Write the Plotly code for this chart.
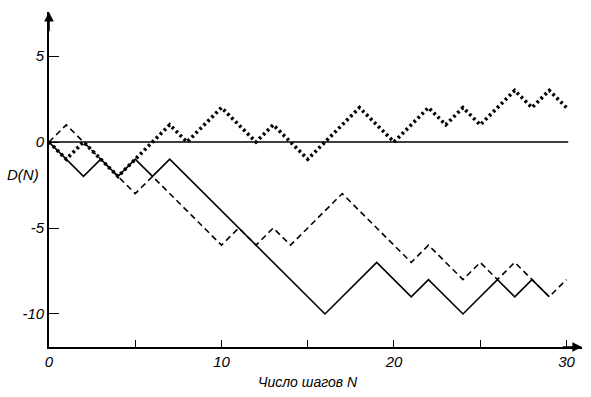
import plotly.graph_objects as go

# Number of steps N
steps = [0, 1, 2, 3, 4, 5, 6, 7, 8, 9, 10, 11, 12, 13, 14, 15,
         16, 17, 18, 19, 20, 21, 22, 23, 24, 25, 26, 27, 28, 29, 30]

# Three random walks D(N)
walk_solid = [0, -1, -2, -1, -2, -1, -2, -1, -2, -3, -4, -5, -6, -7, -8, -9,
              -10, -9, -8, -7, -8, -9, -8, -9, -10, -9, -8, -9, -8, -9]
walk_dashed = [0, 1, 0, -1, -2, -3, -2, -3, -4, -5, -6, -5, -6, -5, -6, -5,
               -4, -3, -4, -5, -6, -7, -6, -7, -8, -7, -8, -7, -8, -9, -8]
walk_dotted = [0, -1, 0, -1, -2, -1, 0, 1, 0, 1, 2, 1, 0, 1, 0, -1,
               0, 1, 2, 1, 0, 1, 2, 1, 2, 1, 2, 3, 2, 3, 2]

x_tickvals = [0, 5, 10, 15, 20, 25, 30]
x_ticktext = ["0", "", "10", "", "20", "", "30"]
y_tickvals = [5, 0, -5, -10]
y_ticktext = ["5", "0", "-5", "-10"]

X_RANGE = [0, 30.9]
Y_RANGE = [-11.92, 7.56]

FONT = "Liberation Sans"

fig = go.Figure()

fig.add_trace(go.Scatter(
    x=steps[:len(walk_solid)], y=walk_solid, mode="lines",
    line=dict(color="black", width=1.6), showlegend=False))
fig.add_trace(go.Scatter(
    x=steps[:len(walk_dashed)], y=walk_dashed, mode="lines",
    line=dict(color="black", width=1.6, dash="6px,4px"), showlegend=False))
fig.add_trace(go.Scatter(
    x=steps[:len(walk_dotted)], y=walk_dotted, mode="lines",
    line=dict(color="black", width=3.6, dash="2.6px,3px"), showlegend=False))

# horizontal reference line at D = 0
fig.add_shape(type="line", x0=0, x1=30.1, y0=0, y1=0, xref="x", yref="y",
              line=dict(color="black", width=1.3))

# arrow heads on the axes
fig.add_annotation(x=0, y=Y_RANGE[1], ax=0, ay=Y_RANGE[1] - 1.2,
                   xref="x", yref="y", axref="x", ayref="y",
                   showarrow=True, arrowhead=2, arrowsize=1.2, arrowwidth=1.6,
                   arrowcolor="black", text="")
fig.add_annotation(x=X_RANGE[1], y=Y_RANGE[0], ax=X_RANGE[1] - 1.2, ay=Y_RANGE[0],
                   xref="x", yref="y", axref="x", ayref="y",
                   showarrow=True, arrowhead=2, arrowsize=1.2, arrowwidth=1.6,
                   arrowcolor="black", text="")

# axis titles
fig.add_annotation(x=-0.049, y=0.516, xref="paper", yref="paper", text="D(N)",
                   showarrow=False, xanchor="center", yanchor="middle",
                   font=dict(family=FONT, size=15, color="black", style="italic"))
fig.add_annotation(x=0.486, y=-0.104, xref="paper", yref="paper",
                   text="Число шагов N",
                   showarrow=False, xanchor="center", yanchor="middle",
                   font=dict(family=FONT, size=14, color="black", style="italic"))

fig.update_xaxes(
    range=X_RANGE, showgrid=False, zeroline=False,
    showline=True, linecolor="black", linewidth=1.8,
    ticks="inside", ticklen=7, tickwidth=1.3, tickcolor="black",
    tickvals=x_tickvals, ticktext=x_ticktext,
    tickfont=dict(family=FONT, size=15, color="black", style="italic"),
)
fig.update_yaxes(
    range=Y_RANGE, showgrid=False, zeroline=False,
    showline=True, linecolor="black", linewidth=1.8,
    ticks="inside", ticklen=10, tickwidth=1.3, tickcolor="black",
    tickvals=y_tickvals, ticktext=y_ticktext,
    tickfont=dict(family=FONT, size=15, color="black", style="italic"),
)

fig.update_layout(
    width=591, height=397,
    margin=dict(l=49, r=9, t=12, b=50),
    paper_bgcolor="white", plot_bgcolor="white",
    showlegend=False,
)

fig.write_html("out.html")
